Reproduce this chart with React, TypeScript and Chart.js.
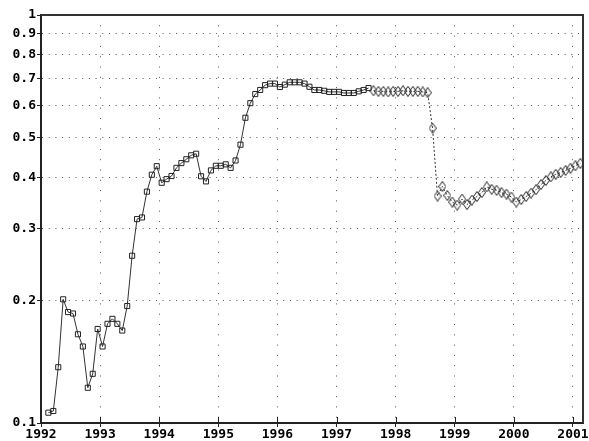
import React, { useEffect, useRef } from "react";
import { Chart, registerables } from "chart.js";
Chart.register(...registerables);

// Monthly observations; month index 0 = January 1992
const START_YEAR = 1992;
const squareStartIndex = 1; // Feb 1992
const squareValues = [
  0.106, 0.107, 0.137, 0.201, 0.187, 0.1855, 0.165, 0.154, 0.122, 0.132, 0.170,
  0.154, 0.175, 0.180, 0.175, 0.1685, 0.1935, 0.257, 0.316, 0.319, 0.369, 0.406,
  0.426, 0.388, 0.396, 0.403, 0.422, 0.4335, 0.443, 0.453, 0.457, 0.4025, 0.391,
  0.416, 0.427, 0.427, 0.4305, 0.422, 0.440, 0.481, 0.560, 0.608, 0.640, 0.655,
  0.673, 0.679, 0.679, 0.666, 0.675, 0.684, 0.684, 0.684, 0.679, 0.667, 0.655,
  0.655, 0.652, 0.648, 0.648, 0.648, 0.644, 0.644, 0.644, 0.650, 0.655, 0.662,
];
const diamondStartIndex = 67; // Aug 1997
const diamondValues = [
  0.652, 0.650, 0.650, 0.648, 0.650, 0.650, 0.652, 0.650, 0.650, 0.650, 0.648,
  0.645, 0.528, 0.360, 0.380, 0.361, 0.348, 0.342, 0.354, 0.343, 0.352, 0.359,
  0.367, 0.379, 0.374, 0.372, 0.367, 0.364, 0.358, 0.348, 0.353, 0.359, 0.366,
  0.373, 0.384, 0.393, 0.401, 0.407, 0.411, 0.416, 0.421, 0.427, 0.433,
];
const xTickYears = [1992, 1993, 1994, 1995, 1996, 1997, 1998, 1999, 2000, 2001];
const yTickValues = [0.1, 0.2, 0.3, 0.4, 0.5, 0.6, 0.7, 0.8, 0.9, 1];
const X_MIN = 1992;
const X_MAX = 2001.17;

const monthToYear = (i: number) => START_YEAR + (i + 0.5) / 12;

export default function App() {
  const ref = useRef<HTMLCanvasElement | null>(null);
  useEffect(() => {
    if (!ref.current) return;
    const diamond = document.createElement("canvas");
    diamond.width = 8;
    diamond.height = 11;
    const dc = diamond.getContext("2d")!;
    dc.strokeStyle = "#222";
    dc.lineWidth = 1;
    dc.beginPath();
    dc.moveTo(4, 0.5);
    dc.lineTo(7.5, 5.5);
    dc.lineTo(4, 10.5);
    dc.lineTo(0.5, 5.5);
    dc.closePath();
    dc.stroke();

    const font = { family: "DejaVu Sans Mono", weight: "bold" as const, size: 13 };
    const chart = new Chart(ref.current, {
      type: "line",
      data: {
        datasets: [
          {
            data: squareValues.map((v, k) => ({ x: monthToYear(squareStartIndex + k), y: v })),
            borderColor: "#333",
            borderWidth: 1,
            pointStyle: "rect",
            pointRadius: 3.6,
            pointBorderColor: "#222",
            pointBorderWidth: 1,
            pointBackgroundColor: "rgba(0,0,0,0)",
            tension: 0,
          },
          {
            data: diamondValues.map((v, k) => ({ x: monthToYear(diamondStartIndex + k), y: v })),
            borderColor: "#333",
            borderWidth: 1,
            borderDash: [2, 2],
            pointStyle: diamond as any,
            pointRadius: 4,
            tension: 0,
          },
        ],
      },
      options: {
        animation: false,
        responsive: false,
        devicePixelRatio: 1,
        layout: { padding: { top: 15, right: 6, left: 0, bottom: 0 } },
        plugins: { legend: { display: false }, tooltip: { enabled: false } },
        scales: {
          x: {
            type: "linear",
            min: X_MIN,
            max: X_MAX,
            afterBuildTicks: (s: any) => {
              s.ticks = xTickYears.map((v) => ({ value: v }));
            },
            afterFit: (s: any) => {
              s.height = 18;
            },
            ticks: {
              callback: (v: any) => String(v),
              font,
              color: "#000",
              padding: 0,
              autoSkip: false,
              maxRotation: 0,
            },
            grid: { color: "#555", lineWidth: 1, tickColor: "#222", tickLength: 4, tickBorderDash: [] },
            border: { color: "#222", width: 2, dash: [1, 9.3] },
          },
          y: {
            type: "logarithmic",
            min: 0.1,
            max: 1,
            afterBuildTicks: (s: any) => {
              s.ticks = yTickValues.map((v) => ({ value: v }));
            },
            afterFit: (s: any) => {
              s.width = 41;
            },
            ticks: {
              callback: (v: any) => String(Number(Number(v).toFixed(1))),
              font,
              color: "#000",
              padding: 1,
              autoSkip: false,
            },
            grid: { color: "#555", lineWidth: 1, tickColor: "#222", tickLength: 4, tickBorderDash: [] },
            border: { color: "#222", width: 2, dash: [1, 5.7] },
          },
        },
      },
      plugins: [
        {
          id: "frame",
          afterDraw(c: any) {
            const { ctx, chartArea } = c;
            const { left, top, right, bottom } = chartArea;
            ctx.save();
            ctx.setLineDash([]);
            ctx.strokeStyle = "#222";
            ctx.lineWidth = 1;
            const xs = c.scales.x;
            xs.ticks.forEach((t: any) => {
              const px = Math.round(xs.getPixelForValue(t.value)) + 0.5;
              ctx.beginPath();
              ctx.moveTo(px, bottom);
              ctx.lineTo(px, bottom - 6);
              ctx.stroke();
            });
            ctx.strokeStyle = "#333";
            ctx.lineWidth = 2;
            ctx.beginPath();
            ctx.moveTo(left, top);
            ctx.lineTo(right, top);
            ctx.lineTo(right, bottom);
            ctx.stroke();
            ctx.restore();
          },
        },
      ],
    } as any);
    return () => chart.destroy();
  }, []);
  return (
    <div style={{ position: "fixed", left: 0, top: 0, width: 589, height: 441, background: "#fff" }}>
      <canvas ref={ref} width={589} height={441} style={{ display: "block" }} />
    </div>
  );
}
